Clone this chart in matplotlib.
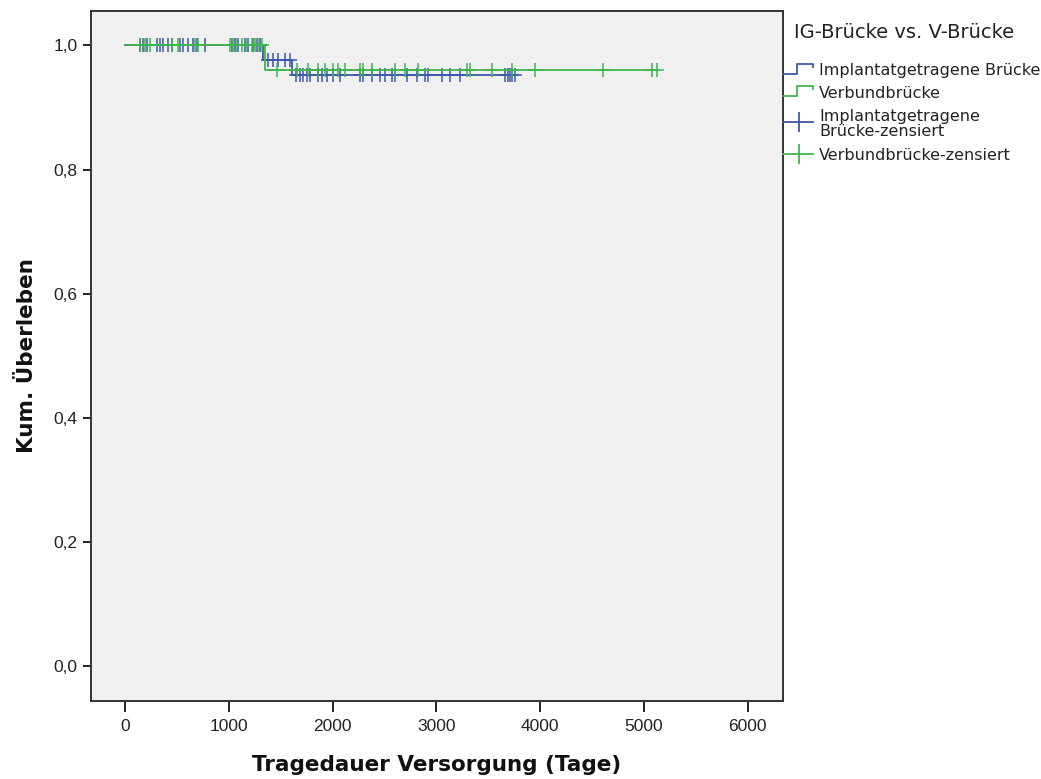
import numpy as np
import matplotlib.pyplot as plt
from matplotlib.lines import Line2D

# Kaplan-Meier Stufen (Tage, kum. Überleben)
ig_steps_t = [0, 1330, 1610]
ig_steps_s = [1.0, 0.977, 0.953]
ig_end = 3757

vb_steps_t = [0, 1350]
vb_steps_s = [1.0, 0.960]
vb_end = 5125

# zensierte Fälle
ig_cens = [145, 177, 209, 305, 337, 369, 417, 450, 530, 562, 610, 658, 690, 771,
           1028, 1060, 1092, 1156, 1188, 1236, 1269, 1301,
           1381, 1429, 1477, 1541, 1590,
           1650, 1686, 1718, 1750, 1782, 1862, 1894, 1943, 2007, 2071, 2264, 2296,
           2376, 2457, 2505, 2569, 2601, 2714, 2810, 2890, 2922, 3051, 3131, 3228,
           3661, 3687, 3709, 3731, 3757]
vb_cens = [145, 193, 241, 450, 514, 675, 706,
           1012, 1044, 1076, 1124, 1172, 1220, 1252, 1284, 1317,
           1461, 1653, 1766, 1862, 1927, 2007, 2055, 2119, 2264, 2296, 2376, 2601,
           2697, 2826, 3292, 3324, 3533, 3725, 3950, 4605, 5077, 5125]

x_ticks = [0, 1000, 2000, 3000, 4000, 5000, 6000]
y_ticks = [0.0, 0.2, 0.4, 0.6, 0.8, 1.0]

BLUE = '#3e58ac'
GREEN = '#3fb54e'
W, H = 1041, 779


def surv_at(t_steps, s_steps, t):
    idx = np.searchsorted(t_steps, t, side='right') - 1
    return np.asarray(s_steps)[idx]


plt.rcParams['font.family'] = ['Liberation Sans', 'DejaVu Sans']

fig = plt.figure(figsize=(W / 100, H / 100), dpi=100)
ax = fig.add_axes([91 / W, 1 - 701 / H, (783 - 91) / W, (701 - 11) / H])
ax.set_facecolor('#f0f0f0')

for t_steps, s_steps, t_end, cens, col in [
        (ig_steps_t, ig_steps_s, ig_end, ig_cens, BLUE),
        (vb_steps_t, vb_steps_s, vb_end, vb_cens, GREEN)]:
    tt = list(t_steps) + [t_end]
    ss = list(s_steps) + [s_steps[-1]]
    ax.step(tt, ss, where='post', color=col, lw=1.3)
    cs = surv_at(t_steps, s_steps, cens)
    ax.plot(cens, cs, ls='none', marker='+', ms=9.5, mew=1.1, color=col)

ax.set_xlim(-327, 6339)
ax.set_ylim(-0.057, 1.0556)
ax.set_xticks(x_ticks)
ax.set_xticklabels([str(v) for v in x_ticks])
ax.set_yticks(y_ticks)
ax.set_yticklabels([('%.1f' % v).replace('.', ',') for v in y_ticks])
ax.tick_params(axis='both', labelsize=12.5, colors='#222222', width=1.4,
               length=6, labelcolor='#222222')
ax.tick_params(axis='x', length=8, pad=5)
for sp in ax.spines.values():
    sp.set_color('#333333')
    sp.set_linewidth(1.4)

ax.set_xlabel('Tragedauer Versorgung (Tage)', fontsize=15.5, fontweight='bold',
              family='DejaVu Sans', labelpad=15, color='#111111')
ax.set_ylabel('Kum. Überleben', fontsize=15.5, fontweight='bold',
              family='DejaVu Sans', labelpad=12, color='#111111')


# Legende rechts neben dem Diagramm (Pixelkoordinaten)
def P(x, y):
    return x / W, 1 - y / H


def fig_line(xs, ys, col):
    fx, fy = zip(*[P(x, y) for x, y in zip(xs, ys)])
    fig.add_artist(Line2D(fx, fy, color=col, lw=1.3, transform=fig.transFigure))


leg_font = dict(family='DejaVu Sans', va='center', color='#222222')
fig.text(*P(794, 33), 'IG-Brücke vs. V-Brücke', fontsize=14, **leg_font)

fig_line([783, 797, 797, 813, 813], [74, 74, 64, 64, 67], BLUE)
fig.text(*P(819, 71), 'Implantatgetragene Brücke', fontsize=11.5, **leg_font)
fig_line([783, 797, 797, 813, 813], [96, 96, 86, 86, 89], GREEN)
fig.text(*P(819, 93), 'Verbundbrücke', fontsize=11.5, **leg_font)

fig_line([783, 813], [122, 122], BLUE)
fig_line([799, 799], [113, 131], BLUE)
fig.text(*P(819, 124), 'Implantatgetragene\nBrücke-zensiert', fontsize=11.5,
         linespacing=1.0, **leg_font)
fig_line([783, 813], [154, 154], GREEN)
fig_line([799, 799], [145, 163], GREEN)
fig.text(*P(819, 156), 'Verbundbrücke-zensiert', fontsize=11.5, **leg_font)

fig.savefig('out.png', dpi=100, facecolor='white')
